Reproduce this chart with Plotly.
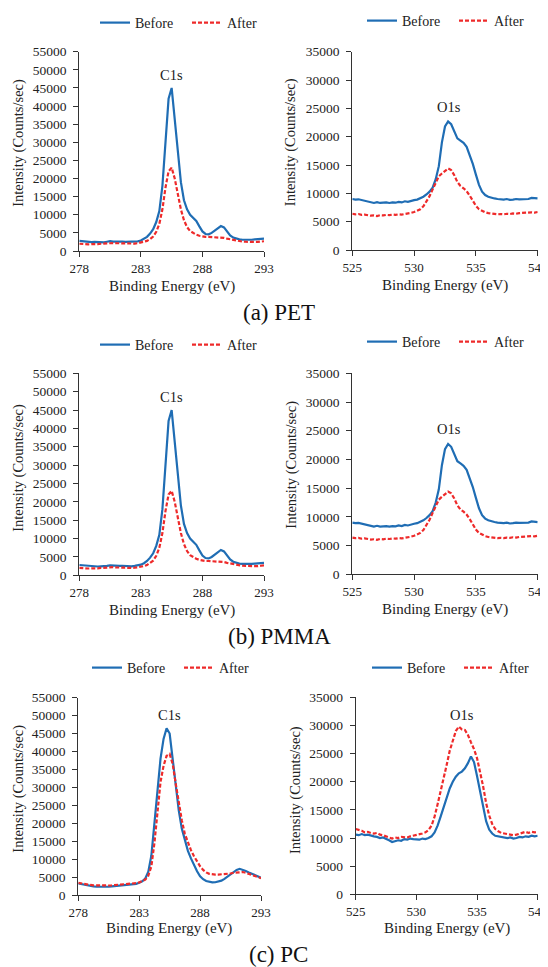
import plotly.graph_objects as go

# ---------------- data ----------------
c1s_energy = [278.0, 278.25, 278.5, 278.75, 279.0, 279.25, 279.5, 279.75, 280.0, 280.25, 280.5, 280.75,
              281.0, 281.25, 281.5, 281.75, 282.0, 282.25, 282.5, 282.75, 283.0, 283.25, 283.5, 283.75,
              284.0, 284.25, 284.5, 284.75, 285.0, 285.25, 285.5, 285.75, 286.0, 286.25, 286.5, 286.75,
              287.0, 287.25, 287.5, 287.75, 288.0, 288.25, 288.5, 288.75, 289.0, 289.25, 289.5, 289.75,
              290.0, 290.25, 290.5, 290.75, 291.0, 291.25, 291.5, 291.75, 292.0, 292.25, 292.5, 292.75, 293.0]
o1s_energy = [525.0, 525.25, 525.5, 525.75, 526.0, 526.25, 526.5, 526.75, 527.0, 527.25, 527.5, 527.75,
              528.0, 528.25, 528.5, 528.75, 529.0, 529.25, 529.5, 529.75, 530.0, 530.25, 530.5, 530.75,
              531.0, 531.25, 531.5, 531.75, 532.0, 532.25, 532.5, 532.75, 533.0, 533.25, 533.5, 533.75,
              534.0, 534.25, 534.5, 534.75, 535.0, 535.25, 535.5, 535.75, 536.0, 536.25, 536.5, 536.75,
              537.0, 537.25, 537.5, 537.75, 538.0, 538.25, 538.5, 538.75, 539.0, 539.25, 539.5, 539.75, 540.0]

pet_c1s_before = [2800, 2700, 2600, 2500, 2450, 2500, 2400, 2450, 2400, 2550, 2700, 2600,
                  2650, 2550, 2600, 2500, 2500, 2450, 2550, 2650, 2900, 3300, 3900, 4800,
                  6000, 8000, 11000, 18000, 30000, 42000, 45000, 36500, 26500, 19000, 14000, 11500,
                  10000, 9200, 8300, 6800, 5400, 4700, 4600, 5000, 5700, 6400, 6900, 6500,
                  5400, 4300, 3700, 3400, 3200, 3100, 3050, 3100, 3100, 3200, 3250, 3300, 3400]
pet_c1s_after = [2000, 1900, 1800, 1850, 1900, 1850, 1900, 2000, 2100, 2200, 2300, 2200,
                 2150, 2100, 2050, 2100, 2050, 2000, 2050, 2150, 2300, 2500, 2800, 3300,
                 4000, 5300, 7500, 11500, 17500, 22000, 23000, 20000, 15500, 11500, 8500, 6600,
                 5500, 4900, 4500, 4200, 4000, 3900, 3900, 3850, 3900, 3850, 3800, 3600,
                 3400, 3200, 3000, 2800, 2700, 2600, 2550, 2500, 2500, 2450, 2500, 2600, 2700]
pet_o1s_before = [9000, 8900, 8950, 8800, 8700, 8500, 8400, 8300, 8450, 8300, 8350, 8400,
                  8300, 8400, 8350, 8500, 8400, 8600, 8500, 8700, 8800, 8900, 9100, 9400,
                  9800, 10300, 11000, 12500, 14800, 19000, 21800, 22700, 22200, 20800, 19700, 19300,
                  18900, 18200, 16800, 15200, 13300, 11500, 10300, 9700, 9400, 9200, 9100, 9000,
                  8950, 8900, 9000, 8850, 8900, 9000, 8950, 9000, 9050, 9000, 9200, 9100, 9100]
pet_o1s_after = [6400, 6300, 6350, 6200, 6250, 6100, 6050, 6100, 6000, 6150, 6100, 6200,
                 6150, 6250, 6200, 6300, 6250, 6350, 6400, 6550, 6700, 6900, 7200, 7700,
                 8500, 9500, 10700, 12000, 13000, 13500, 14000, 14400, 14100, 13200, 12000, 11300,
                 10900, 10400, 9600, 8600, 7800, 7200, 6900, 6650, 6500, 6400, 6350, 6300,
                 6350, 6300, 6400, 6350, 6450, 6400, 6500, 6550, 6500, 6600, 6650, 6600, 6700]

# PMMA spectra (read as identical to the PET panel in the figure)
pmma_c1s_before = list(pet_c1s_before)
pmma_c1s_after = list(pet_c1s_after)
pmma_o1s_before = list(pet_o1s_before)
pmma_o1s_after = list(pet_o1s_after)

pc_c1s_before = [3200, 3000, 2800, 2650, 2500, 2400, 2300, 2250, 2200, 2250, 2300, 2400,
                 2500, 2550, 2600, 2650, 2700, 2800, 2950, 3100, 3400, 3800, 4600, 6500,
                 11000, 20000, 30000, 38000, 43500, 46500, 45000, 38000, 30000, 23500, 18500, 15000,
                 12300, 10200, 8300, 6600, 5200, 4400, 3900, 3650, 3500, 3550, 3700, 4000,
                 4500, 5100, 5800, 6500, 7000, 7300, 7100, 6700, 6300, 5900, 5500, 5150, 4800]
pc_c1s_after = [3400, 3200, 3000, 2900, 2800, 2700, 2650, 2600, 2550, 2600, 2650, 2700,
                2750, 2800, 2850, 2900, 2950, 3050, 3150, 3300, 3500, 3800, 4300, 5400,
                8000, 14500, 23000, 31500, 36000, 38800, 39300, 36500, 31000, 25500, 20800, 17000,
                14500, 12500, 10800, 9300, 8000, 7000, 6300, 5900, 5750, 5700, 5700, 5750,
                5800, 5900, 6000, 6200, 6300, 6500, 6400, 6200, 5900, 5600, 5300, 5000, 4700]
pc_o1s_before = [10600, 10500, 10700, 10500, 10600, 10400, 10300, 10200, 10000, 10100, 9900, 9600,
                 9300, 9400, 9600, 9500, 9800, 9700, 9900, 9800, 9800, 9700, 9900, 9800,
                 10000, 10300, 11000, 12200, 13800, 15600, 17300, 18800, 20000, 20900, 21500, 21800,
                 22400, 23300, 24500, 23500, 21000, 18500, 15800, 13000, 11500, 10800, 10400, 10300,
                 10200, 10100, 10000, 10100, 9900, 10000, 10200, 10100, 10300, 10200, 10400, 10300, 10400]
pc_o1s_after = [11600, 11500, 11300, 11000, 11100, 10900, 10800, 10900, 10600, 10500, 10300, 10100,
                9900, 10100, 10000, 10200, 10200, 10100, 10300, 10400, 10500, 10600, 10800, 11000,
                11400, 12200, 13800, 16000, 18200, 20700, 23000, 25500, 27500, 29000, 29800, 29300,
                29200, 28300, 27000, 25800, 24200, 21800, 19200, 16200, 14000, 12500, 11600, 11200,
                10900, 10800, 10700, 10500, 10500, 10600, 10800, 11000, 11100, 10900, 11100, 11000, 11100]

series_names = ["Before", "After"]
captions = ["(a) PET", "(b) PMMA", "(c) PC"]
x_title = "Binding Energy (eV)"
y_title = "Intensity (Counts/sec)"
c1s_xticks = [278, 283, 288, 293]
o1s_xticks = [525, 530, 535, 540]

# ---------------- styling / layout ----------------
# the page body adds an 8 px offset, so the figure is drawn 8 px smaller and
# all pixel positions below (measured on the 548x967 window) are shifted by 8.
OFF = 8
W, H = 548 - OFF, 967 - OFF
BLUE = "#1F6DB4"
RED = "#EE2A2A"
FONT = "Liberation Serif, Times New Roman, serif"
TXT = "#222222"

def px(x):
    return (x - OFF) / W

def py(y):
    return 1 - (y - OFF) / H

# panel boxes in window pixels: (left, right, top, bottom)
boxes = [
    (79.3, 264.0, 51.7, 251.0),
    (352.3, 537.7, 51.7, 250.0),
    (79.3, 264.0, 373.3, 575.3),
    (352.3, 537.7, 373.3, 574.3),
    (78.3, 261.0, 697.7, 895.0),
    (355.7, 537.7, 697.3, 894.3),
]
panels = [
    (c1s_energy, pet_c1s_before, pet_c1s_after, "C1s"),
    (o1s_energy, pet_o1s_before, pet_o1s_after, "O1s"),
    (c1s_energy, pmma_c1s_before, pmma_c1s_after, "C1s"),
    (o1s_energy, pmma_o1s_before, pmma_o1s_after, "O1s"),
    (c1s_energy, pc_c1s_before, pc_c1s_after, "C1s"),
    (o1s_energy, pc_o1s_before, pc_o1s_after, "O1s"),
]
legend_pos = [(95, 23), (362, 21), (95, 345), (362, 342), (87, 668), (367, 668)]
ytitle_pos = [(18.3, 142.5), (290.7, 142.5), (18.3, 467.5), (290.7, 465), (17.7, 789), (295, 790)]
xtitle_pos = [(171.7, 286), (445, 285), (171.7, 610), (445, 609), (168.8, 928.3), (446.5, 928)]
peak_pos = [(285.45, 48500), (532.8, 25300), (285.45, 48500), (532.8, 25300), (285.45, 50200), (533.8, 31800)]
caption_pos = [(279, 313), (279, 636), (278, 954)]

fig = go.Figure()
layout = dict(
    template="none",
    width=W, height=H, margin=dict(l=0, r=0, t=0, b=0, pad=0, autoexpand=False),
    plot_bgcolor="white", paper_bgcolor="white",
    font=dict(family=FONT, size=13, color=TXT),
    annotations=[],
)

for i, (xs, before, after, peak) in enumerate(panels):
    n = i + 1
    sfx = "" if n == 1 else str(n)
    leg = "legend" if n == 1 else f"legend{n}"
    fig.add_trace(go.Scatter(x=xs, y=before, name=series_names[0], mode="lines",
                             line=dict(color=BLUE, width=2.2), xaxis=f"x{sfx}", yaxis=f"y{sfx}",
                             legend=leg, showlegend=True))
    fig.add_trace(go.Scatter(x=xs, y=after, name=series_names[1], mode="lines",
                             line=dict(color=RED, width=2.2, dash="4px,2px"), xaxis=f"x{sfx}", yaxis=f"y{sfx}",
                             legend=leg, showlegend=True))
    l, r, t, b = boxes[i]
    is_c = peak == "C1s"
    layout[f"xaxis{sfx}"] = dict(
        domain=[px(l), px(r)], anchor=f"y{sfx}", automargin=False,
        range=[278, 293] if is_c else [525, 540],
        tickvals=c1s_xticks if is_c else o1s_xticks,
        showline=True, linecolor="#333333", linewidth=1,
        ticks="outside", ticklen=5, tickcolor="#333333",
        showgrid=False, zeroline=False, ticklabeloverflow="allow",
        tickfont=dict(family=FONT, size=13, color=TXT),
    )
    layout[f"yaxis{sfx}"] = dict(
        domain=[py(b), py(t)], anchor=f"x{sfx}", automargin=False,
        range=[0, 55000] if is_c else [0, 35000],
        dtick=5000, tickformat="d",
        showline=True, linecolor="#333333", linewidth=1,
        ticks="outside", ticklen=5, tickcolor="#333333",
        showgrid=False, zeroline=False, ticklabelstandoff=4,
        tickfont=dict(family=FONT, size=13.5, color=TXT),
    )
    lx, ly = legend_pos[i]
    layout[leg] = dict(
        x=px(lx), y=py(ly), xanchor="left", yanchor="middle",
        orientation="h", bgcolor="rgba(0,0,0,0)", borderwidth=0,
        entrywidth=47, entrywidthmode="pixels",
        font=dict(family=FONT, size=14, color=TXT),
    )
    yx, yy = ytitle_pos[i]
    layout["annotations"].append(dict(
        x=px(yx), y=py(yy), xref="paper", yref="paper", text=y_title, textangle=-90,
        showarrow=False, xanchor="center", yanchor="middle",
        font=dict(family=FONT, size=14.5, color=TXT)))
    xx, xy = xtitle_pos[i]
    layout["annotations"].append(dict(
        x=px(xx), y=py(xy), xref="paper", yref="paper", text=x_title,
        showarrow=False, xanchor="center", yanchor="middle",
        font=dict(family=FONT, size=15, color=TXT)))
    pxv, pyv = peak_pos[i]
    layout["annotations"].append(dict(
        x=pxv, y=pyv, xref=f"x{sfx}", yref=f"y{sfx}", text=peak,
        showarrow=False, xanchor="center", yanchor="middle",
        font=dict(family=FONT, size=14.5, color=TXT)))

for cap, (cx, cy) in zip(captions, caption_pos):
    layout["annotations"].append(dict(
        x=px(cx), y=py(cy), xref="paper", yref="paper", text=cap,
        showarrow=False, xanchor="center", yanchor="middle",
        font=dict(family=FONT, size=23, color="#111111")))

fig.update_layout(**layout)
fig.write_html("out.html")
